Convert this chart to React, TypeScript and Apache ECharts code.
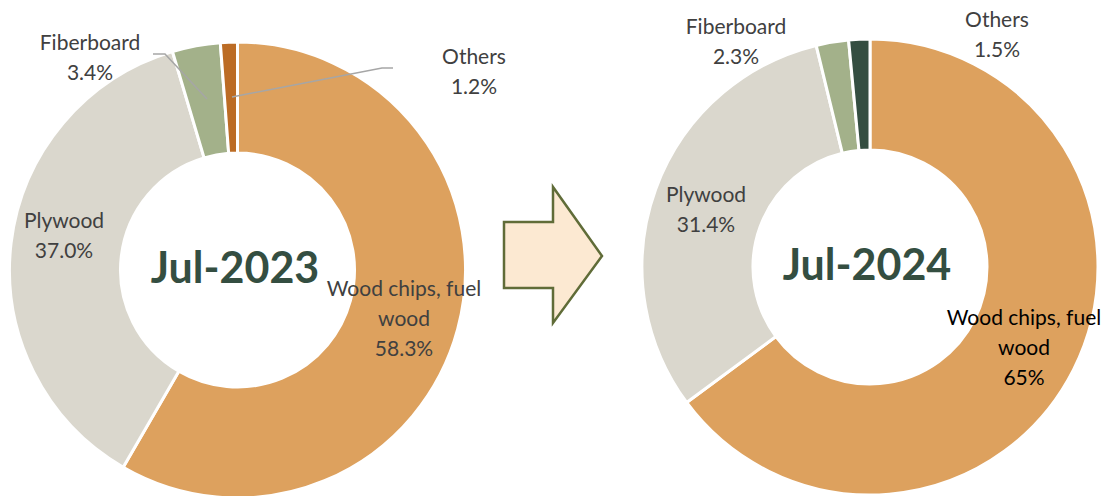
import React, { useEffect, useRef } from "react";
import * as echarts from "echarts";

const categories = ["Wood chips, fuel\nwood", "Plywood", "Fiberboard", "Others"];
const values2023 = [58.3, 37.0, 3.4, 1.2];
const values2024 = [65, 31.4, 2.3, 1.5];
const periodLabels = ["Jul-2023", "Jul-2024"];

const colors2023 = ["#DDA15E", "#DAD7CD", "#A3B18A", "#BC6C25"];
const colors2024 = ["#DDA15E", "#DAD7CD", "#A3B18A", "#344E41"];

const FONT = "Lato, 'Open Sans', sans-serif";

// label anchor positions (layout, px) and leader lines
const leftCenter = [237.5, 270];
const rightCenter = [870, 267];
const leftLabelPos = [[404, 317], [64, 234], [90, 56], [474, 70]];
const rightLabelPos = [[1024, 346], [706, 208], [736, 40], [997, 33]];
const leftLines: number[][][] = [
  [[153, 54], [165, 54], [207, 99]],
  [[393, 68], [382, 68], [232, 97]],
];

export default function App() {
  const ref = useRef<HTMLDivElement>(null);
  useEffect(() => {
    if (!ref.current) return;
    const chart = echarts.init(ref.current, undefined, { renderer: "svg" });
    const mkData = (vals: number[], cols: string[], labelColors: string[]) =>
      vals.map((v, i) => ({
        name: categories[i],
        value: v,
        itemStyle: { color: cols[i] },
        label: { color: labelColors[i] },
      }));
    const baseSeries = {
      type: "pie",
      radius: [117, 228],
      startAngle: 90,
      clockwise: true,
      avoidLabelOverlap: false,
      itemStyle: { borderColor: "#ffffff", borderWidth: 3 },
      label: {
        show: true,
        position: "outside",
        fontFamily: FONT,
        fontSize: 21,
        lineHeight: 30,
        align: "center",
      },
      labelLine: { show: false },
      emphasis: { disabled: true },
    };
    chart.setOption({
      animation: false,
      series: [
        {
          ...baseSeries,
          center: leftCenter,
          data: mkData(values2023, colors2023, ["#404040", "#404040", "#404040", "#404040"]),
          label: {
            ...baseSeries.label,
            formatter: (p: any) => `${p.name}\n${p.value.toFixed(1)}%`,
          },
          labelLayout: (p: any) => {
            const pos = leftLabelPos[p.dataIndex];
            return { x: pos[0], y: pos[1], align: "center", verticalAlign: "middle" };
          },
        },
        {
          ...baseSeries,
          center: rightCenter,
          data: mkData(values2024, colors2024, ["#000000", "#404040", "#404040", "#404040"]),
          label: {
            ...baseSeries.label,
            formatter: (p: any) => `${p.name}\n${String(p.value)}%`,
          },
          labelLayout: (p: any) => {
            const pos = rightLabelPos[p.dataIndex];
            return { x: pos[0], y: pos[1], align: "center", verticalAlign: "middle" };
          },
        },
      ],
      graphic: [
        ...leftLines.map((pts) => ({
          type: "polyline",
          z: 100,
          shape: { points: pts },
          style: { stroke: "#A6A6A6", lineWidth: 1.5, fill: null },
        })),
        {
          type: "text",
          x: 235,
          y: 266,
          style: {
            text: periodLabels[0],
            fontFamily: FONT,
            fontWeight: "bold",
            fontSize: 43,
            fill: "#344E41",
            align: "center",
            verticalAlign: "middle",
          },
        },
        {
          type: "text",
          x: 867,
          y: 263,
          style: {
            text: periodLabels[1],
            fontFamily: FONT,
            fontWeight: "bold",
            fontSize: 43,
            fill: "#344E41",
            align: "center",
            verticalAlign: "middle",
          },
        },
        {
          type: "polygon",
          shape: {
            points: [
              [504, 222],
              [553, 222],
              [553, 187],
              [602, 256],
              [553, 323],
              [553, 288],
              [504, 288],
            ],
          },
          style: { fill: "#FCE9D2", stroke: "#606C38", lineWidth: 2.5 },
        },
      ],
    });
    return () => chart.dispose();
  }, []);
  return (
    <div
      ref={ref}
      style={{ position: "fixed", left: 0, top: 0, width: 1109, height: 496, background: "#fff" }}
    />
  );
}
